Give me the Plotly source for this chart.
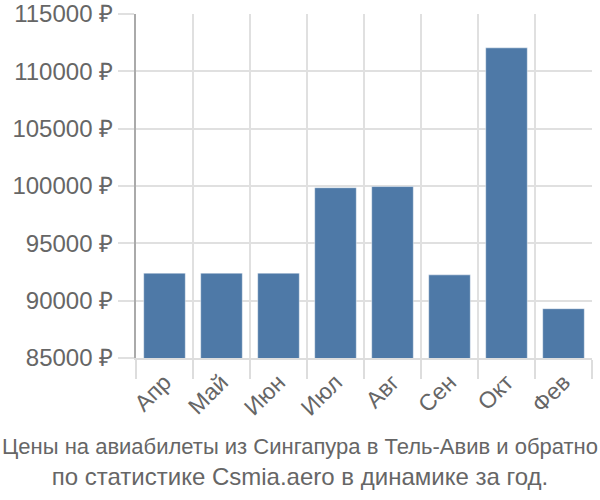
import plotly.graph_objects as go

months = ["Апр", "Май", "Июн", "Июл", "Авг", "Сен", "Окт", "Фев"]
prices = [92400, 92400, 92400, 99850, 99950, 92250, 112050, 89300]
y_ticks = [85000, 90000, 95000, 100000, 105000, 110000, 115000]
y_tick_labels = [f"{v} ₽" for v in y_ticks]
title_line1 = "Цены на авиабилеты из Сингапура в Тель-Авив и обратно"
title_line2 = "по статистике Csmia.aero в динамике за год."

fig = go.Figure(
    go.Bar(
        x=months,
        y=prices,
        marker=dict(color="#4e79a7", line=dict(color="rgba(255,255,255,0.45)", width=1)),
    )
)

fig.update_layout(
    width=600,
    height=500,
    margin=dict(l=136, r=8, t=14, b=142),
    paper_bgcolor="white",
    plot_bgcolor="white",
    bargap=0.27,
    showlegend=False,
    font=dict(family="Liberation Sans, Arial, sans-serif", color="#666666", size=24),
    title=dict(
        text=f"<span style='font-size:22px'>{title_line1}</span><br>{title_line2}",
        xref="container",
        yref="container",
        x=0.5,
        y=0.092,
        xanchor="center",
        yanchor="middle",
        font=dict(size=24, color="#666666"),
    ),
)

fig.update_xaxes(
    type="category",
    automargin=False,
    tickson="boundaries",
    showgrid=True,
    gridcolor="#e0e0e0",
    gridwidth=1.5,
    ticks="outside",
    ticklen=19,
    tickcolor="#dddddd",
    tickwidth=1.5,
    tickangle=-45,
    showline=True,
    linecolor="#dddddd",
    linewidth=1.5,
    tickfont=dict(size=23, color="#666666"),
)

fig.update_yaxes(
    range=[85000, 115000],
    automargin=False,
    tickvals=y_ticks,
    ticktext=y_tick_labels,
    showgrid=True,
    gridcolor="#e0e0e0",
    gridwidth=1.5,
    ticks="outside",
    ticklen=16,
    tickcolor="#e0e0e0",
    tickwidth=1.5,
    showline=True,
    linecolor="#aaaaaa",
    linewidth=2,
    zeroline=False,
    tickfont=dict(size=24, color="#666666"),
)

fig.write_html("out.html")
